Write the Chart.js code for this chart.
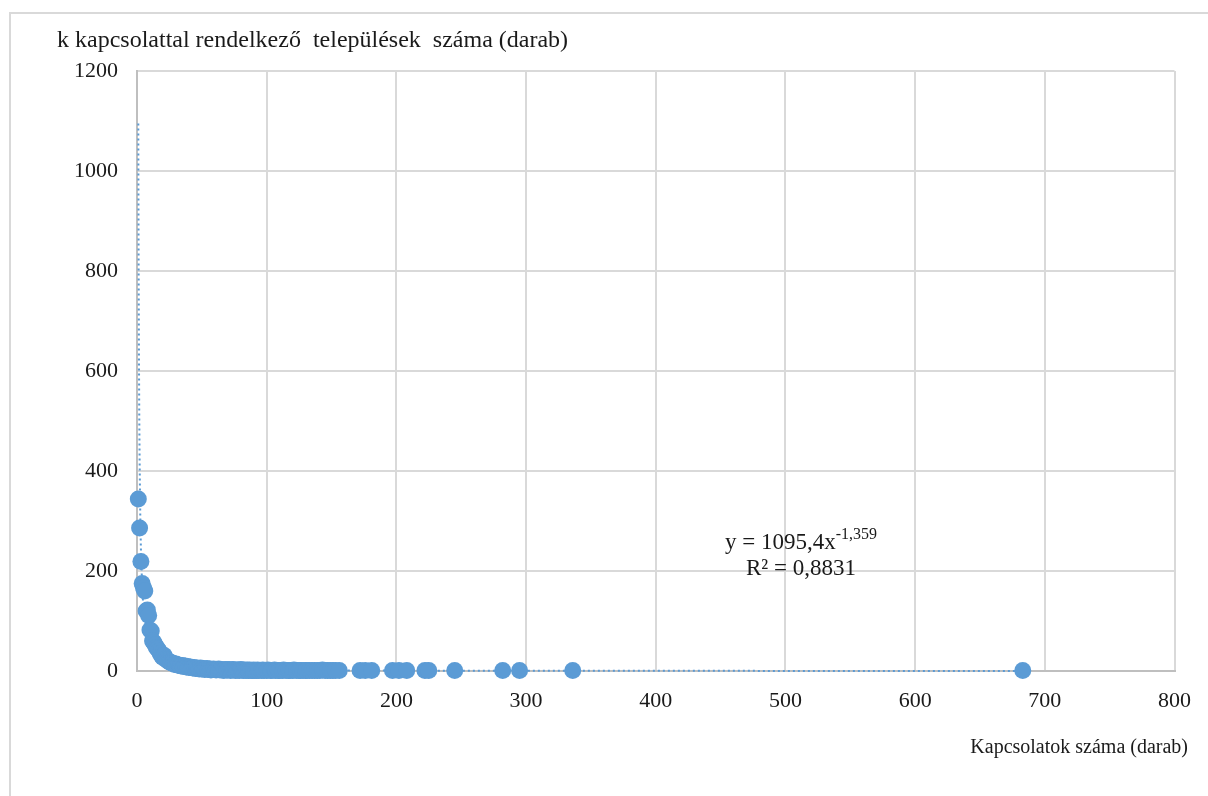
<!DOCTYPE html>
<html>
<head>
<meta charset="utf-8">
<script src="https://cdn.jsdelivr.net/npm/chart.js@4.4.1/dist/chart.umd.min.js"></script>
<style>
  html, body { margin: 0; padding: 0; background: #fff; }
  #wrap { position: relative; width: 1208px; height: 796px; overflow: hidden; }
  #frame { position: absolute; left: 9px; top: 12px; width: 1400px; height: 1000px;
           border-left: 2px solid #d9d9d9; border-top: 2px solid #d9d9d9; }
  canvas { position: absolute; left: 0; top: 0; }
</style>
</head>
<body>
<div id="wrap">
  <div id="frame"></div>
  <canvas id="c" width="1208" height="796"></canvas>
</div>
<script>
// Number of connections (k)
const connections = [1,2,3,4,5,6,7,8,9,10,11,12,13,14,15,16,17,18,19,20,21,22,23,24,25,26,27,28,29,30,
  31,32,33,34,35,36,37,38,39,40,41,42,43,44,45,46,47,48,49,50,51,52,53,54,55,56,57,58,59,60,
  61,62,63,64,65,66,67,68,69,70,71,72,73,74,75,76,77,78,79,80,81,82,83,84,85,86,87,88,89,90,
  91,92,93,94,96,97,98,100,101,103,104,106,107,109,110,112,113,115,117,118,120,121,123,125,126,
  128,130,131,133,135,137,139,141,143,145,147,149,151,153,156,
  172,176,181,197,202,208,222,225,245,282,295,336,683];
// Number of settlements with k connections
const settlements = [344,286,219,175,166,160,120,122,111,82,80,60,57,52,47,44,40,35,30,27,31,24,22,20,18,17,16,15,13,14,
  12,12,11,10,11,9,10,8,9,7,8,7,6,7,5,6,5,4,6,4,5,3,4,5,3,4,2,3,4,3,
  2,3,4,2,3,2,1,3,2,2,3,1,2,3,2,1,2,2,1,3,2,1,2,1,2,1,2,1,1,2,
  1,1,2,1,1,2,1,1,2,1,1,2,1,1,1,1,2,1,1,1,1,2,1,1,1,
  1,1,1,1,1,1,1,1,2,1,1,1,1,1,1,
  1,1,1,1,1,1,1,1,1,1,1,1,1];
// Power trendline (y = 1095,4x^-1,359)
const trendX = [1,1.1,1.25,1.5,1.75,2,2.5,3,4,5,6,8,10,13,16,20,25,30,40,50,70,100,150,200,300,400,500,683];
const trendY = [1095,962,809,631,512,427,315,246,166,123,96,65,48,33.5,25.3,18.7,13.8,10.8,7.3,5.4,3.4,2.1,1.21,0.82,0.49,0.32,0.23,0.15];

const xTicks = [0,100,200,300,400,500,600,700,800];
const yTicks = [0,200,400,600,800,1000,1200];

const yTitle = 'k kapcsolattal rendelkező  települések  száma (darab)';
const xTitle = 'Kapcsolatok száma (darab)';
const eqMain = 'y = 1095,4x';
const eqExp = '-1,359';
const r2Text = 'R² = 0,8831';

const blue = '#5B9BD5';
const serif = '"Liberation Serif", "Times New Roman", serif';

const scatterData = connections.map((k, i) => ({ x: k, y: settlements[i] }));
const trendData = trendX.map((x, i) => ({ x: x, y: trendY[i] }));

const textPlugin = {
  id: 'texts',
  afterDraw(chart) {
    const ctx = chart.ctx;
    ctx.save();
    ctx.fillStyle = '#1a1a1a';
    ctx.textBaseline = 'middle';
    ctx.textAlign = 'left';
    ctx.font = '24px ' + serif;
    ctx.fillText(yTitle, 57, 41);
    ctx.font = '20px ' + serif;
    ctx.textAlign = 'right';
    ctx.fillText(xTitle, 1188, 748);
    // equation
    ctx.font = '23px ' + serif;
    const w1 = ctx.measureText(eqMain).width;
    ctx.font = '16px ' + serif;
    const w2 = ctx.measureText(eqExp).width;
    const cx = 801;
    const left = cx - (w1 + w2) / 2;
    ctx.textAlign = 'left';
    ctx.font = '23px ' + serif;
    ctx.fillText(eqMain, left, 543);
    ctx.font = '16px ' + serif;
    ctx.fillText(eqExp, left + w1, 535);
    ctx.font = '23px ' + serif;
    ctx.textAlign = 'center';
    ctx.fillText(r2Text, 801, 569);
    ctx.restore();
  }
};

new Chart(document.getElementById('c'), {
  type: 'scatter',
  data: {
    datasets: [
      {
        type: 'line',
        label: 'trend',
        data: trendData,
        borderColor: blue,
        borderWidth: 2,
        borderDash: [2, 3],
        pointRadius: 0,
        fill: false,
        tension: 0,
        clip: false,
        order: 2
      },
      {
        label: 'data',
        data: scatterData,
        backgroundColor: blue,
        borderColor: blue,
        borderWidth: 0,
        pointRadius: 8.5,
        pointHoverRadius: 8.5,
        clip: false,
        order: 1
      }
    ]
  },
  options: {
    responsive: false,
    animation: false,
    layout: { padding: { left: 0, right: 31, top: 71, bottom: 0 } },
    plugins: { legend: { display: false }, tooltip: { enabled: false }, title: { display: false } },
    scales: {
      x: {
        type: 'linear',
        min: 0, max: 800,
        afterBuildTicks(scale) { scale.ticks = xTicks.map(v => ({ value: v })); },
        afterFit(scale) { scale.height = 125; },
        grid: { color: '#d9d9d9', lineWidth: 2, drawTicks: false },
        border: { color: '#bfbfbf', width: 2 },
        ticks: { color: '#1a1a1a', font: { family: serif, size: 22 }, padding: 17, maxRotation: 0,
                 callback: v => String(v) }
      },
      y: {
        type: 'linear',
        min: 0, max: 1200,
        afterBuildTicks(scale) { scale.ticks = yTicks.map(v => ({ value: v })); },
        afterFit(scale) { scale.width = 137; },
        grid: { color: '#d9d9d9', lineWidth: 2, drawTicks: false },
        border: { color: '#bfbfbf', width: 2 },
        ticks: { color: '#1a1a1a', font: { family: serif, size: 22 }, padding: 19,
                 callback: v => String(v) }
      }
    }
  },
  plugins: [textPlugin]
});
</script>
</body>
</html>
